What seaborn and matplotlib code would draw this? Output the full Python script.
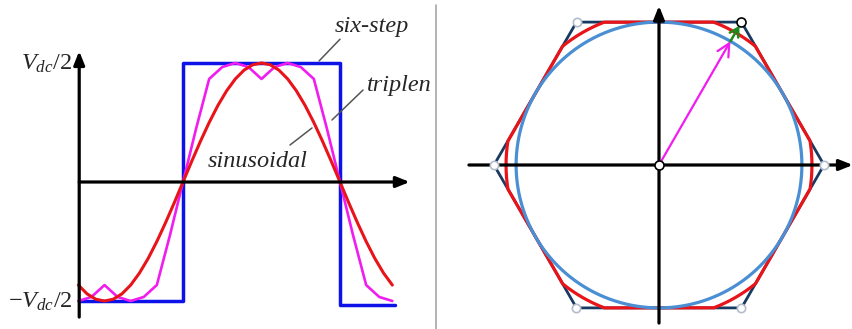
import numpy as np
import pandas as pd
import matplotlib
matplotlib.use("Agg")
import matplotlib.pyplot as plt
import seaborn as sns

# ---------------- waveform data (angle in degrees, voltage in units of Vdc/2)
sin_angle = [-120, -110, -100, -90, -80, -70, -60, -50, -40, -30, -20, -10,
             0, 10, 20, 30, 40, 50, 60, 70, 80, 90, 100, 110, 120, 130, 140,
             150, 160, 170, 180, 190, 200, 210, 220, 230, 240]
sin_value = [-0.866, -0.940, -0.985, -1.000, -0.985, -0.940, -0.866, -0.766,
             -0.643, -0.500, -0.342, -0.174, 0.000, 0.174, 0.342, 0.500,
             0.643, 0.766, 0.866, 0.940, 0.985, 1.000, 0.985, 0.940, 0.866,
             0.766, 0.643, 0.500, 0.342, 0.174, 0.000, -0.174, -0.342,
             -0.500, -0.643, -0.766, -0.866]

triplen_angle = [-120, -105, -90, -75, -60, -45, -30, -15, 0, 15, 30, 45, 60,
                 75, 90, 105, 120, 135, 150, 165, 180, 195, 210, 225, 240]
triplen_value = [-1.000, -0.966, -0.866, -0.966, -1.000, -0.966, -0.866,
                 -0.448, 0.000, 0.448, 0.866, 0.966, 1.000, 0.966, 0.866,
                 0.966, 1.000, 0.966, 0.866, 0.448, 0.000, -0.448, -0.866,
                 -0.966, -1.000]

sixstep_angle = [-119, 0, 0, 180, 180, 243]
sixstep_value = [-1.0, -1.0, 1.0, 1.0, -1.03, -1.03]

# ---------------- space-vector data (lengths relative to hexagon radius)
hex_radius = 1.0
circle_radius = 0.866
clip_radius = 0.927
ref_angle_deg = 60

# ---------------- styling
BLUE = "#0d12e8"
MAGENTA = "#f01cf0"
RED = "#e8141a"
NAVY = "#173a62"
CIRCLE_BLUE = "#4a8fd4"
GREEN = "#1d8a1d"
LEADER = "#555555"

sns.set_theme(style="white")
plt.rcParams["font.family"] = ["Liberation Serif", "DejaVu Serif"]
plt.rcParams["mathtext.fontset"] = "custom"
plt.rcParams["mathtext.rm"] = "Liberation Serif"
plt.rcParams["mathtext.it"] = "Liberation Serif:italic"

W, H = 853, 329
fig = plt.figure(figsize=(W / 100, H / 100), dpi=100)
fig.patch.set_facecolor("white")

# ================= left panel: phase voltage waveforms
ax1 = fig.add_axes([0, 0, 435 / W, 1])
ax1.set_axis_off()
k = 157 / 180.0           # horizontal scale
x0_px, y0_px, unit_px = 183, 182, 119
ax1.set_xlim(-x0_px / k, (435 - x0_px) / k)
ax1.set_ylim((y0_px - H) / unit_px, y0_px / unit_px)

df_six = pd.DataFrame({"angle": sixstep_angle, "v": sixstep_value})
df_tri = pd.DataFrame({"angle": triplen_angle, "v": triplen_value})
df_sin = pd.DataFrame({"angle": sin_angle, "v": sin_value})

sns.lineplot(data=df_six, x="angle", y="v", ax=ax1, color=BLUE, lw=2.5,
             sort=False, estimator=None, zorder=2)
sns.lineplot(data=df_tri, x="angle", y="v", ax=ax1, color=MAGENTA, lw=1.9,
             sort=False, estimator=None, zorder=3)
sns.lineplot(data=df_sin, x="angle", y="v", ax=ax1, color=RED, lw=2.2,
             sort=False, estimator=None, zorder=4)

axis_arrow = dict(arrowstyle="-|>,head_length=0.8,head_width=0.32",
                  color="black", lw=2.3, shrinkA=0, shrinkB=0,
                  mutation_scale=10)
ax1.annotate("", xy=(260, 0), xytext=(-119, 0), arrowprops=axis_arrow,
             zorder=5)
ax1.annotate("", xy=(-119, 1.10), xytext=(-119, -1.135),
             arrowprops=axis_arrow, zorder=5)

ax1.text(-127, 0.99, r"$V_{dc}/2$", ha="right", va="center", fontsize=17.5)
ax1.text(-127, -1.01, r"$-V_{dc}/2$", ha="right", va="center", fontsize=17.5)

lab = dict(fontsize=17.5, style="italic", ha="left", va="baseline")
ax1.text(174.5, 1.258, "six-step", **lab)
ax1.text(211, 0.767, "triplen", **lab)
ax1.text(28.7, 0.129, "sinusoidal", **lab)

for (xa, ya), (xb, yb) in [((180, 1.20), (156, 1.017)),
                           ((206.4, 0.773), (170.8, 0.521)),
                           ((147.9, 0.454), (122.7, 0.311))]:
    ax1.plot([xa, xb], [ya, yb], color=LEADER, lw=1.1, zorder=6)

# ================= right panel: voltage hexagon
ax2 = fig.add_axes([436 / W, 0, 417 / W, 1])
ax2.set_axis_off()
cx, cy, r_px = 659, 165, 165
ax2.set_xlim((436 - cx) / r_px, (W - cx) / r_px)
ax2.set_ylim((cy - H) / r_px, cy / r_px)

vert_ang = np.deg2rad(np.arange(0, 361, 60))
hx = hex_radius * np.cos(vert_ang)
hy = hex_radius * np.sin(vert_ang)
sns.lineplot(x=hx, y=hy, ax=ax2, color=NAVY, lw=2.0, sort=False,
             estimator=None, zorder=2)

# hexagon clipped by a circle (overmodulated triplen locus)
phi = np.linspace(0, 2 * np.pi, 1441)
apothem = hex_radius * np.cos(np.pi / 6)
delta = np.mod(phi, np.pi / 3) - np.pi / 6
r_locus = np.minimum(clip_radius, apothem / np.cos(delta))
sns.lineplot(x=r_locus * np.cos(phi), y=r_locus * np.sin(phi), ax=ax2,
             color=RED, lw=2.3, sort=False, estimator=None, zorder=3)

sns.lineplot(x=circle_radius * np.cos(phi), y=circle_radius * np.sin(phi),
             ax=ax2, color=CIRCLE_BLUE, lw=2.3, sort=False, estimator=None,
             zorder=4)

ax2.annotate("", xy=(1.175, 0), xytext=(-1.152, 0), arrowprops=axis_arrow,
             zorder=5)
ax2.annotate("", xy=(0, 0.965), xytext=(0, -0.958), arrowprops=axis_arrow,
             zorder=5)

ra = np.deg2rad(ref_angle_deg)
p_circ = (circle_radius * np.cos(ra), circle_radius * np.sin(ra))
p_hex = (hex_radius * np.cos(ra), hex_radius * np.sin(ra))
ax2.annotate("", xy=p_circ, xytext=(0, 0),
             arrowprops=dict(arrowstyle="->,head_length=0.9,head_width=0.45",
                             color=MAGENTA, lw=1.6, shrinkA=0, shrinkB=0,
                             mutation_scale=10), zorder=6)
ax2.annotate("", xy=p_hex, xytext=p_circ,
             arrowprops=dict(arrowstyle="->,head_length=0.6,head_width=0.35",
                             color=GREEN, lw=1.8, shrinkA=0, shrinkB=3,
                             mutation_scale=10), zorder=6)

other = [a for a in range(0, 360, 60) if a != ref_angle_deg]
oa = np.deg2rad(other)
ax2.plot(hex_radius * np.cos(oa), hex_radius * np.sin(oa), "o", ms=6,
         mfc="white", mec="#b4bccb", mew=1.2, zorder=7, ls="none")
ax2.plot([p_hex[0], 0], [p_hex[1], 0], "o", ms=6.5, mfc="white", mec="black",
         mew=1.2, zorder=7, ls="none")

# divider between the two panels
fig.add_artist(plt.Line2D([435.7 / W, 435.7 / W], [0, 1 - 5 / H],
                          color="#a6a6a6", lw=1.2))

fig.savefig("out.png", dpi=100, facecolor="white")
